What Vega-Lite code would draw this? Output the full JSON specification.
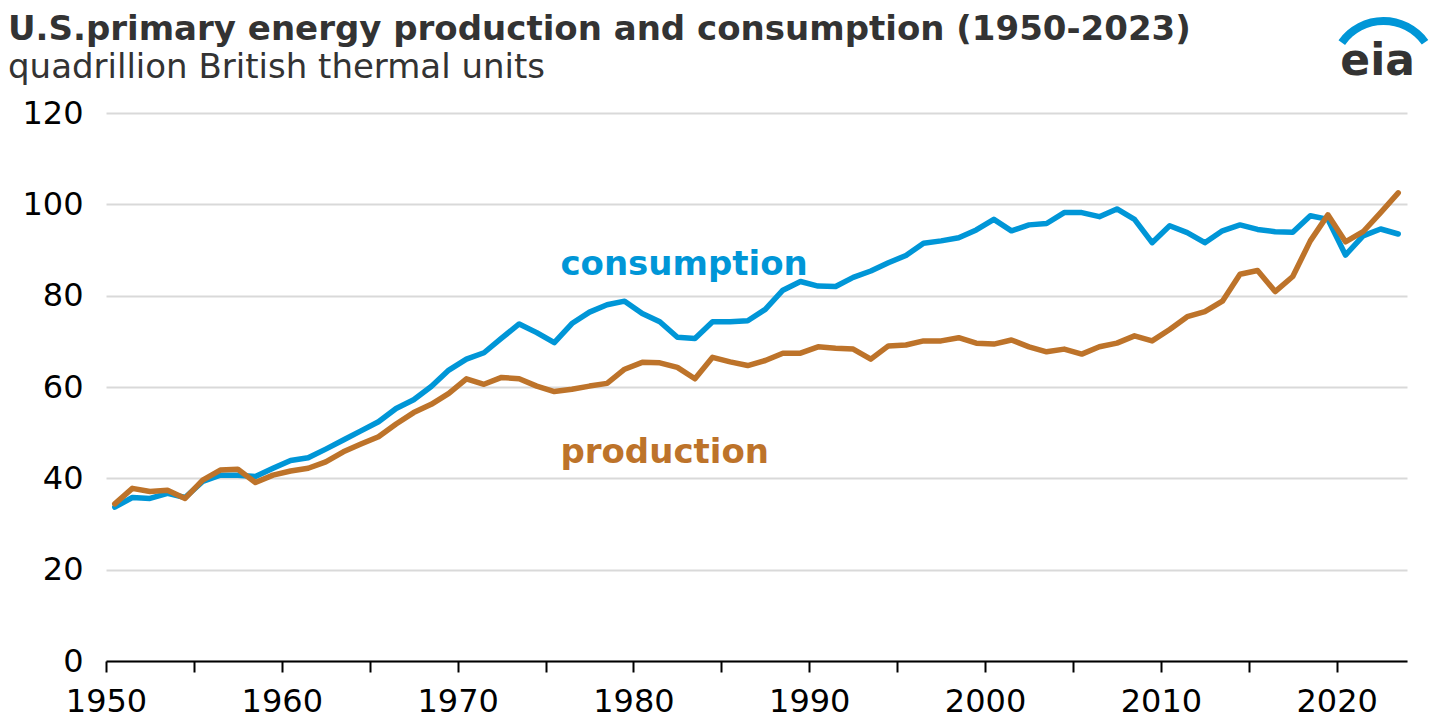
{
  "$schema": "https://vega.github.io/schema/vega-lite/v6.json",
  "width": 1301,
  "height": 548,
  "autosize": "none",
  "padding": {"left": 106, "top": 113, "right": 49, "bottom": 67},
  "background": "white",
  "config": {"font": "DejaVu Sans", "view": {"stroke": null}},
  "title": {
    "text": "U.S.primary energy production and consumption (1950-2023)",
    "subtitle": "quadrillion British thermal units",
    "anchor": "start",
    "frame": "group",
    "dx": -98,
    "dy": 80,
    "offset": 12,
    "fontSize": 34,
    "fontWeight": "bold",
    "color": "#333333",
    "subtitleFontSize": 34,
    "subtitleColor": "#333333",
    "subtitleFontWeight": "normal",
    "subtitlePadding": 4
  },
  "data": {
    "format": {"parse": {"year": "date:'%Y'"}},
    "values": [
      {"year": "1950", "consumption": 33.7, "production": 34.4},
      {"year": "1951", "consumption": 35.8, "production": 37.8},
      {"year": "1952", "consumption": 35.6, "production": 37.1},
      {"year": "1953", "consumption": 36.7, "production": 37.4},
      {"year": "1954", "consumption": 35.8, "production": 35.6},
      {"year": "1955", "consumption": 39.3, "production": 39.6},
      {"year": "1956", "consumption": 40.7, "production": 41.8},
      {"year": "1957", "consumption": 40.7, "production": 42.0},
      {"year": "1958", "consumption": 40.4, "production": 39.1},
      {"year": "1959", "consumption": 42.2, "production": 40.7},
      {"year": "1960", "consumption": 43.9, "production": 41.6},
      {"year": "1961", "consumption": 44.5, "production": 42.2},
      {"year": "1962", "consumption": 46.4, "production": 43.6},
      {"year": "1963", "consumption": 48.4, "production": 45.8},
      {"year": "1964", "consumption": 50.4, "production": 47.5},
      {"year": "1965", "consumption": 52.4, "production": 49.1},
      {"year": "1966", "consumption": 55.3, "production": 51.9},
      {"year": "1967", "consumption": 57.2, "production": 54.4},
      {"year": "1968", "consumption": 60.1, "production": 56.2},
      {"year": "1969", "consumption": 63.7, "production": 58.6},
      {"year": "1970", "consumption": 66.1, "production": 61.8},
      {"year": "1971", "consumption": 67.5, "production": 60.6},
      {"year": "1972", "consumption": 70.7, "production": 62.1},
      {"year": "1973", "consumption": 73.8, "production": 61.8},
      {"year": "1974", "consumption": 71.9, "production": 60.2},
      {"year": "1975", "consumption": 69.7, "production": 59.0},
      {"year": "1976", "consumption": 73.9, "production": 59.5},
      {"year": "1977", "consumption": 76.4, "production": 60.2},
      {"year": "1978", "consumption": 78.0, "production": 60.8},
      {"year": "1979", "consumption": 78.8, "production": 63.9},
      {"year": "1980", "consumption": 76.1, "production": 65.4},
      {"year": "1981", "consumption": 74.3, "production": 65.3},
      {"year": "1982", "consumption": 70.9, "production": 64.3},
      {"year": "1983", "consumption": 70.6, "production": 61.8},
      {"year": "1984", "consumption": 74.3, "production": 66.5},
      {"year": "1985", "consumption": 74.3, "production": 65.5},
      {"year": "1986", "consumption": 74.5, "production": 64.7},
      {"year": "1987", "consumption": 77.0, "production": 65.8},
      {"year": "1988", "consumption": 81.2, "production": 67.4},
      {"year": "1989", "consumption": 83.1, "production": 67.4},
      {"year": "1990", "consumption": 82.1, "production": 68.8},
      {"year": "1991", "consumption": 82.0, "production": 68.5},
      {"year": "1992", "consumption": 84.0, "production": 68.3},
      {"year": "1993", "consumption": 85.4, "production": 66.1},
      {"year": "1994", "consumption": 87.2, "production": 69.0},
      {"year": "1995", "consumption": 88.8, "production": 69.2},
      {"year": "1996", "consumption": 91.5, "production": 70.1},
      {"year": "1997", "consumption": 92.0, "production": 70.1},
      {"year": "1998", "consumption": 92.7, "production": 70.8},
      {"year": "1999", "consumption": 94.4, "production": 69.6},
      {"year": "2000", "consumption": 96.7, "production": 69.4},
      {"year": "2001", "consumption": 94.2, "production": 70.3},
      {"year": "2002", "consumption": 95.5, "production": 68.8},
      {"year": "2003", "consumption": 95.8, "production": 67.7},
      {"year": "2004", "consumption": 98.2, "production": 68.3},
      {"year": "2005", "consumption": 98.2, "production": 67.2},
      {"year": "2006", "consumption": 97.3, "production": 68.8},
      {"year": "2007", "consumption": 99.0, "production": 69.6},
      {"year": "2008", "consumption": 96.7, "production": 71.2},
      {"year": "2009", "consumption": 91.6, "production": 70.1},
      {"year": "2010", "consumption": 95.3, "production": 72.6},
      {"year": "2011", "consumption": 93.8, "production": 75.4},
      {"year": "2012", "consumption": 91.6, "production": 76.5},
      {"year": "2013", "consumption": 94.2, "production": 78.8},
      {"year": "2014", "consumption": 95.5, "production": 84.7},
      {"year": "2015", "consumption": 94.5, "production": 85.5},
      {"year": "2016", "consumption": 94.0, "production": 80.9},
      {"year": "2017", "consumption": 93.9, "production": 84.2},
      {"year": "2018", "consumption": 97.5, "production": 92.0},
      {"year": "2019", "consumption": 96.7, "production": 97.7},
      {"year": "2020", "consumption": 88.9, "production": 91.8},
      {"year": "2021", "consumption": 93.1, "production": 94.0},
      {"year": "2022", "consumption": 94.6, "production": 98.2},
      {"year": "2023", "consumption": 93.5, "production": 102.5}
    ]
  },
  "layer": [
    {
      "transform": [{"fold": ["consumption", "production"], "as": ["series", "value"]}],
      "mark": {"type": "line", "strokeWidth": 5.5, "strokeCap": "round", "strokeJoin": "round"},
      "encoding": {
        "x": {
          "field": "year",
          "type": "temporal",
          "timeUnit": "year",
          "bandPosition": 0.5,
          "scale": {"domain": [{"year": 1950}, {"year": 2024}]},
          "axis": {
            "values": [{"year": 1950}, {"year": 1955}, {"year": 1960}, {"year": 1965}, {"year": 1970}, {"year": 1975}, {"year": 1980}, {"year": 1985}, {"year": 1990}, {"year": 1995}, {"year": 2000}, {"year": 2005}, {"year": 2010}, {"year": 2015}, {"year": 2020}],
            "labelExpr": "year(datum.value) % 10 === 0 ? timeFormat(datum.value, '%Y') : ''",
            "grid": false,
            "domainColor": "#000000",
            "domainWidth": 2,
            "tickColor": "#000000",
            "tickWidth": 2,
            "tickSize": 11,
            "labelFontSize": 32,
            "labelColor": "#000000",
            "labelPadding": 14,
            "labelOverlap": false,
            "labelFlush": false,
            "title": null
          }
        },
        "y": {
          "field": "value",
          "type": "quantitative",
          "scale": {"domain": [0, 120]},
          "axis": {
            "values": [0, 20, 40, 60, 80, 100, 120],
            "domain": false,
            "ticks": false,
            "grid": true,
            "gridColor": "#d9d9d9",
            "gridWidth": 2,
            "labelFontSize": 32,
            "labelColor": "#000000",
            "labelPadding": 23,
            "title": null
          }
        },
        "color": {
          "field": "series",
          "type": "nominal",
          "scale": {"domain": ["consumption", "production"], "range": ["#0096d7", "#bd732a"]},
          "legend": null
        }
      }
    },
    {
      "data": {"values": [{}]},
      "mark": {"type": "text", "text": "consumption", "align": "left", "baseline": "alphabetic", "fontSize": 34, "fontWeight": "bold", "color": "#0096d7"},
      "encoding": {
        "x": {"datum": {"year": 1975, "month": 11, "date": 6}, "type": "temporal"},
        "y": {"datum": 84.5, "type": "quantitative"}
      }
    },
    {
      "data": {"values": [{}]},
      "mark": {"type": "text", "text": "production", "align": "left", "baseline": "alphabetic", "fontSize": 34, "fontWeight": "bold", "color": "#bd732a"},
      "encoding": {
        "x": {"datum": {"year": 1975, "month": 11, "date": 6}, "type": "temporal"},
        "y": {"datum": 43.4, "type": "quantitative"}
      }
    },
    {
      "data": {"values": [{}]},
      "mark": {"type": "text", "text": "eia", "align": "center", "baseline": "alphabetic", "fontSize": 44, "fontWeight": "bold", "color": "#333333"},
      "encoding": {
        "x": {"datum": {"year": 2022, "month": 5}, "type": "temporal"},
        "y": {"datum": 128.3, "type": "quantitative"}
      }
    },
    {
      "data": {"values": [{}]},
      "mark": {"type": "arc", "radius": 55, "radius2": 47, "theta": -0.96, "theta2": 0.95, "color": "#0096d7"},
      "encoding": {
        "x": {"datum": {"year": 2022, "month": 9}, "type": "temporal"},
        "y": {"datum": 129.0, "type": "quantitative"}
      }
    }
  ]
}
